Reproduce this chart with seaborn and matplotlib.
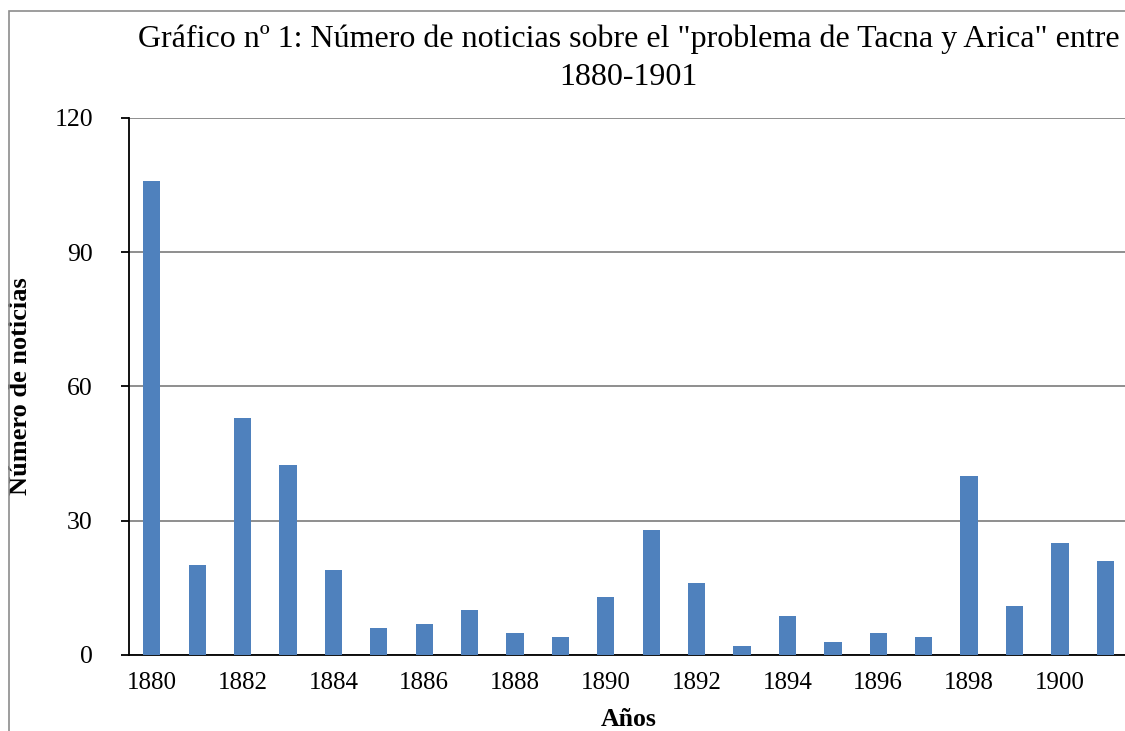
import matplotlib
matplotlib.use("Agg")
import pandas as pd
import seaborn as sns
from matplotlib import pyplot as plt
from matplotlib.patches import Rectangle

years = list(range(1880, 1902))
noticias = [106, 20, 53, 42.5, 19, 6, 7, 10, 5, 4, 13, 28, 16, 2, 8.7, 3, 5, 4, 40, 11, 25, 21]
tick_years = [str(y) for y in years[::2]]

df = pd.DataFrame({'anio': years, 'noticias': noticias})

sns.set_style('white')
plt.rcParams['font.family'] = ['Liberation Serif', 'DejaVu Serif']
plt.rcParams['text.color'] = 'black'
plt.rcParams['axes.labelcolor'] = 'black'
plt.rcParams['xtick.color'] = 'black'
plt.rcParams['ytick.color'] = 'black'

fig = plt.figure(figsize=(11.25, 7.31), dpi=100)
# marco del grafico (recortado a la derecha y abajo)
fig.patches.append(Rectangle((0.008, -0.2), 1.2, 0.985 + 0.2, transform=fig.transFigure,
                             fill=False, edgecolor='#8c8c8c', linewidth=1.2, zorder=0))

ax = fig.add_axes([0.1147, 0.104, 0.888, 0.7346])
sns.barplot(data=df, x='anio', y='noticias', color='#4F81BD', width=0.38,
            saturation=1, linewidth=0, ax=ax, zorder=3)

ax.set_ylim(0, 120)
ax.set_xlim(-0.5, 21.5)
ax.set_yticks([0, 30, 60, 90, 120])
ax.set_xticks(range(0, len(years), 2))
ax.set_xticklabels(tick_years)
ax.yaxis.grid(True, color='#868686', linewidth=1.3)
ax.set_axisbelow(True)
for s in ['top', 'right']:
    ax.spines[s].set_visible(False)
for s in ['left', 'bottom']:
    ax.spines[s].set_color('black')
    ax.spines[s].set_linewidth(1.3)
ax.tick_params(axis='y', length=6, width=1.3, color='black', pad=20, labelsize=18.5, left=True)
ax.tick_params(axis='x', length=0, pad=12, labelsize=18)

ax.set_xlabel('Años', fontsize=18.5, fontweight='bold', labelpad=10)
ax.set_ylabel('Número de noticias', fontsize=19, fontweight='bold')
ax.yaxis.set_label_coords(-0.097, 0.5)
ax.set_title('Gráfico nº 1: Número de noticias sobre el "problema de Tacna y Arica" entre\n1880-1901',
             fontsize=23, pad=24, linespacing=1.38)

fig.savefig('out.png', dpi=100)
